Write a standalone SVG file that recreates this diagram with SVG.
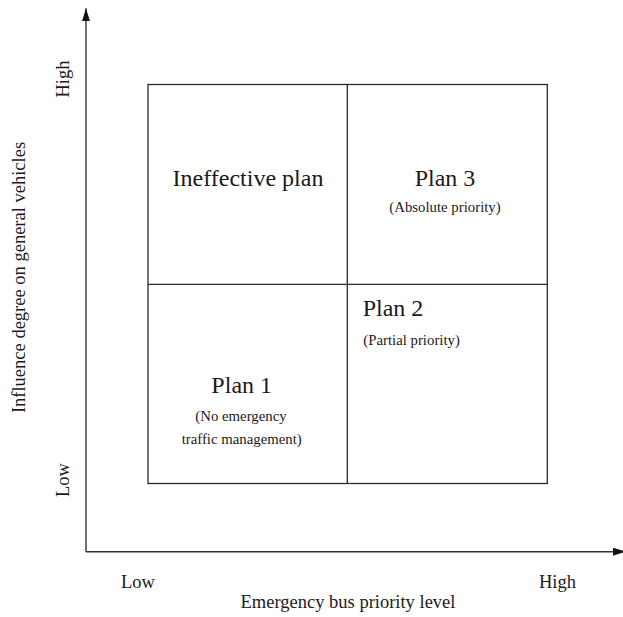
<svg xmlns="http://www.w3.org/2000/svg" width="623" height="617" viewBox="0 0 623 617" font-family="'Liberation Serif', 'Times New Roman', Times, serif">
<style>
text{font-family:'Liberation Serif','Times New Roman',Times,serif;fill:#1a1a1a}
.ax{font-size:18.5px}
.big{font-size:24px}
.sm{font-size:14.8px}
.line{stroke:#2a2a2a;stroke-width:1.3;fill:none}
.axis{stroke:#333;stroke-width:1.4;fill:none}
</style>
<defs>
<marker id="arr" viewBox="0 0 13 8" refX="13" refY="4" markerWidth="13" markerHeight="8" markerUnits="userSpaceOnUse" orient="auto">
<path d="M0,0 L13,4 L0,8 Z" fill="#111"/>
</marker>
</defs>
<g id="connectors">
<line class="axis" x1="86" y1="551.7" x2="86" y2="8.3" marker-end="url(#arr)"/>
<line class="axis" x1="86" y1="551.7" x2="626" y2="551.7" marker-end="url(#arr)"/>
</g>
<g id="grid">
<rect class="line" x="148" y="84.5" width="399.3" height="399"/>
<line class="line" x1="347.3" y1="84.5" x2="347.3" y2="483.5"/>
<line class="line" x1="148" y1="284.3" x2="547.3" y2="284.3"/>
</g>
<g id="ineffective">
<text class="big" x="248" y="186" text-anchor="middle">Ineffective plan</text>
</g>
<g id="plan3">
<text class="big" x="445" y="186" text-anchor="middle">Plan 3</text>
<text class="sm" x="445" y="211.7" text-anchor="middle">(Absolute priority)</text>
</g>
<g id="plan2">
<text class="big" x="362.7" y="315.7">Plan 2</text>
<text class="sm" x="363.3" y="345">(Partial priority)</text>
</g>
<g id="plan1">
<text class="big" x="241.7" y="393.3" text-anchor="middle">Plan 1</text>
<text class="sm" x="241" y="420.7" text-anchor="middle">(No emergency</text>
<text class="sm" x="241.7" y="444" text-anchor="middle">traffic management)</text>
</g>
<g id="labels">
<text class="ax" transform="translate(68.5,79) rotate(-90)" text-anchor="middle">High</text>
<text class="ax" transform="translate(68.5,480) rotate(-90)" text-anchor="middle">Low</text>
<text class="ax" transform="translate(25,277.5) rotate(-90)" text-anchor="middle">Influence degree on general vehicles</text>
<text class="ax" x="138" y="588" text-anchor="middle">Low</text>
<text class="ax" x="557.5" y="588" text-anchor="middle">High</text>
<text class="ax" x="348" y="608" text-anchor="middle">Emergency bus priority level</text>
</g>
</svg>
